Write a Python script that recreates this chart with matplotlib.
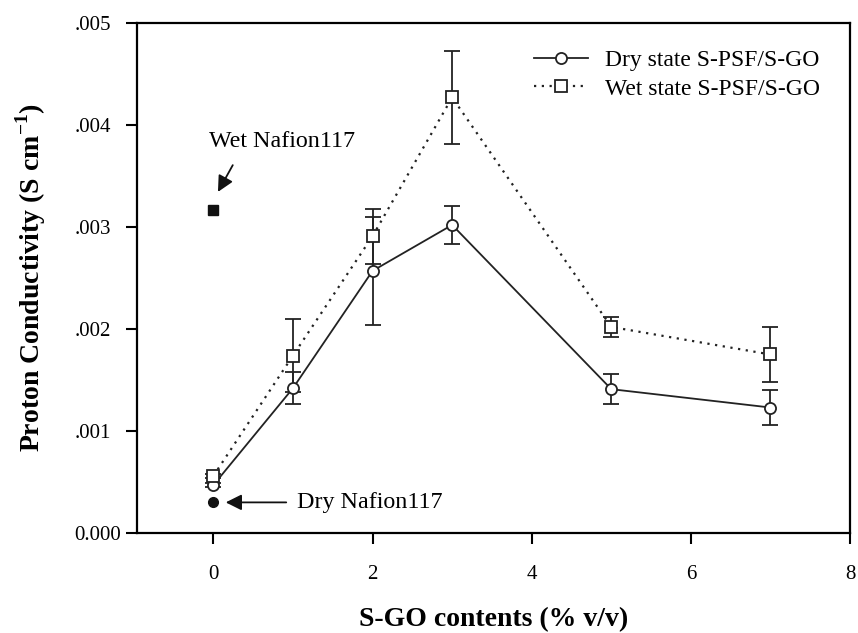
import matplotlib
matplotlib.use("Agg")
import matplotlib.pyplot as plt
import matplotlib.transforms as mtransforms
from matplotlib.ticker import FuncFormatter
from matplotlib.lines import Line2D

# Data
sgo = [0, 1, 2, 3, 5, 7]
dry = [0.00047, 0.00142, 0.00257, 0.00302, 0.00141, 0.00123]
dry_err = [0.00002, 0.00016, 0.00053, 0.00019, 0.00015, 0.00017]
wet = [0.00056, 0.00174, 0.00291, 0.00427, 0.00202, 0.00175]
wet_err = [0.00002, 0.00036, 0.00027, 0.00046, 0.00010, 0.00027]
nafion_dry = 0.00030
nafion_wet = 0.00317

plt.rcParams['font.family'] = ['Liberation Serif', 'DejaVu Serif']
plt.rcParams['mathtext.fontset'] = 'custom'
plt.rcParams['mathtext.rm'] = 'Liberation Serif'
plt.rcParams['mathtext.bf'] = 'Liberation Serif:bold'

fig = plt.figure(figsize=(8.58, 6.33), dpi=100)
ax = fig.add_axes([0.1597, 0.158, 0.831, 0.8057])

ink = '#222222'
ax.errorbar(sgo, dry, yerr=dry_err, color=ink, lw=1.3, marker='o', ms=8,
            mfc='white', mec=ink, mew=1.3, capsize=6, elinewidth=1.3,
            capthick=1.3, zorder=3)
ax.errorbar(sgo, wet, yerr=wet_err, color=ink, lw=1.6, ls=(0, (1, 2.5)),
            marker='s', ms=8.5, mfc='white', mec=ink, mew=1.3, capsize=6,
            elinewidth=1.3, capthick=1.3, zorder=3)

ax.plot([0], [nafion_wet], marker='s', ms=7, color='#111111', ls='none')
ax.plot([0], [nafion_dry], marker='o', ms=7, color='#111111', ls='none')

ax.annotate('', xy=(0.04, 0.00332), xytext=(0.26, 0.00363),
            arrowprops=dict(arrowstyle='-|>', color='#111111', lw=1.3,
                            mutation_scale=24))
ax.text(-0.06, 0.00384, 'Wet Nafion117', fontsize=17.3, va='center', ha='left')
ax.annotate('', xy=(0.12, nafion_dry), xytext=(0.95, nafion_dry),
            arrowprops=dict(arrowstyle='-|>', color='#111111', lw=1.3,
                            mutation_scale=24))
ax.text(1.05, nafion_dry, 'Dry Nafion117', fontsize=17.3, va='center', ha='left')

ax.set_xlim(-0.96, 8)
ax.set_ylim(0, 0.005)
ax.set_xticks([0, 2, 4, 6, 8])
ax.set_yticks([0, 0.001, 0.002, 0.003, 0.004, 0.005])

def yfmt(v, pos):
    if abs(v) < 1e-12:
        return '0.000'
    return ('%.3f' % v)[1:]

ax.yaxis.set_major_formatter(FuncFormatter(yfmt))
ax.tick_params(direction='out', length=8, width=1.5, labelsize=15,
               top=False, right=False)
ax.tick_params(axis='x', pad=15)
ax.tick_params(axis='y', pad=11)
for s in ax.spines.values():
    s.set_linewidth(1.6)

ax.set_xlabel('S-GO contents (% v/v)', fontsize=20, fontweight='bold', labelpad=17)
ax.set_ylabel(r'Proton Conductivity (S cm$^{\mathbf{-1}}$)', fontsize=20,
              fontweight='bold')
ax.yaxis.set_label_coords(-0.125, 0.5)

# the "0.000" label sits closer to the axis in the reference
fig.canvas.draw()
lbl0 = ax.get_yticklabels()[0]
lbl0.set_transform(lbl0.get_transform() +
                   mtransforms.ScaledTranslation(10 / 100, 0, fig.dpi_scale_trans))

h_dry = Line2D([], [], color=ink, lw=1.3, marker='o', ms=8, mfc='white',
               mec=ink, mew=1.3)
h_wet = Line2D([], [], color=ink, lw=1.6, ls=(0, (1, 2.5)), marker='s', ms=8.5,
               mfc='white', mec=ink, mew=1.3)
ax.legend([h_dry, h_wet], ['Dry state S-PSF/S-GO', 'Wet state S-PSF/S-GO'],
          loc='upper left', bbox_to_anchor=(0.557, 0.948), fontsize=17,
          frameon=False, handlelength=2.3, handletextpad=0.7, borderpad=0,
          borderaxespad=0, labelspacing=0.3)

fig.savefig('out.png', dpi=100)
